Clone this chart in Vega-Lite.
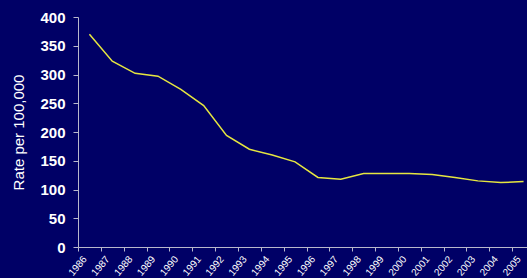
{
  "$schema": "https://vega.github.io/schema/vega-lite/v6.json",
  "autosize": "none",
  "width": 449,
  "height": 230,
  "padding": {"left": 78, "top": 17, "right": 0, "bottom": 31},
  "background": "#000066",
  "config": {
    "view": {"stroke": null},
    "font": "Liberation Sans"
  },
  "data": {
    "values": [
      {"year": 1986, "rate": 370},
      {"year": 1987, "rate": 323},
      {"year": 1988, "rate": 302},
      {"year": 1989, "rate": 297},
      {"year": 1990, "rate": 274},
      {"year": 1991, "rate": 246},
      {"year": 1992, "rate": 194},
      {"year": 1993, "rate": 170},
      {"year": 1994, "rate": 160},
      {"year": 1995, "rate": 148},
      {"year": 1996, "rate": 121},
      {"year": 1997, "rate": 118},
      {"year": 1998, "rate": 128},
      {"year": 1999, "rate": 128},
      {"year": 2000, "rate": 128},
      {"year": 2001, "rate": 126},
      {"year": 2002, "rate": 121},
      {"year": 2003, "rate": 115},
      {"year": 2004, "rate": 112},
      {"year": 2005, "rate": 114}
    ]
  },
  "mark": {"type": "line", "color": "#e6e640", "strokeWidth": 1.5, "clip": true},
  "encoding": {
    "x": {
      "field": "year",
      "type": "quantitative",
      "scale": {"domain": [1985.5, 2005.15], "nice": false, "zero": false},
      "axis": {
        "title": null,
        "grid": false,
        "values": [1986,1987,1988,1989,1990,1991,1992,1993,1994,1995,1996,1997,1998,1999,2000,2001,2002,2003,2004,2005],
        "format": "d",
        "labelAngle": -50,
        "labelFontSize": 10,
        "labelColor": "#ffffff",
        "labelPadding": 6,
        "labelOffset": 6.5,
        "tickOffset": -11.42,
        "tickSize": 4,
        "tickColor": "#b8b8cc",
        "domainColor": "#b8b8cc",
        "labelOverlap": false,
        "labelBound": false,
        "labelFlush": false
      }
    },
    "y": {
      "field": "rate",
      "type": "quantitative",
      "scale": {"domain": [0, 400], "nice": false},
      "axis": {
        "title": "Rate per 100,000",
        "titleColor": "#ffffff",
        "titleFontSize": 15,
        "titleFontWeight": "normal",
        "titleAngle": -90,
        "titleX": -60,
        "titleY": 115,
        "titleAlign": "center",
        "titleBaseline": "middle",
        "grid": false,
        "values": [0,50,100,150,200,250,300,350,400],
        "labelFontSize": 15,
        "labelFontWeight": "bold",
        "labelColor": "#ffffff",
        "labelPadding": 8,
        "tickSize": 5,
        "tickColor": "#b8b8cc",
        "domainColor": "#b8b8cc",
        "labelFlush": false
      }
    }
  }
}
